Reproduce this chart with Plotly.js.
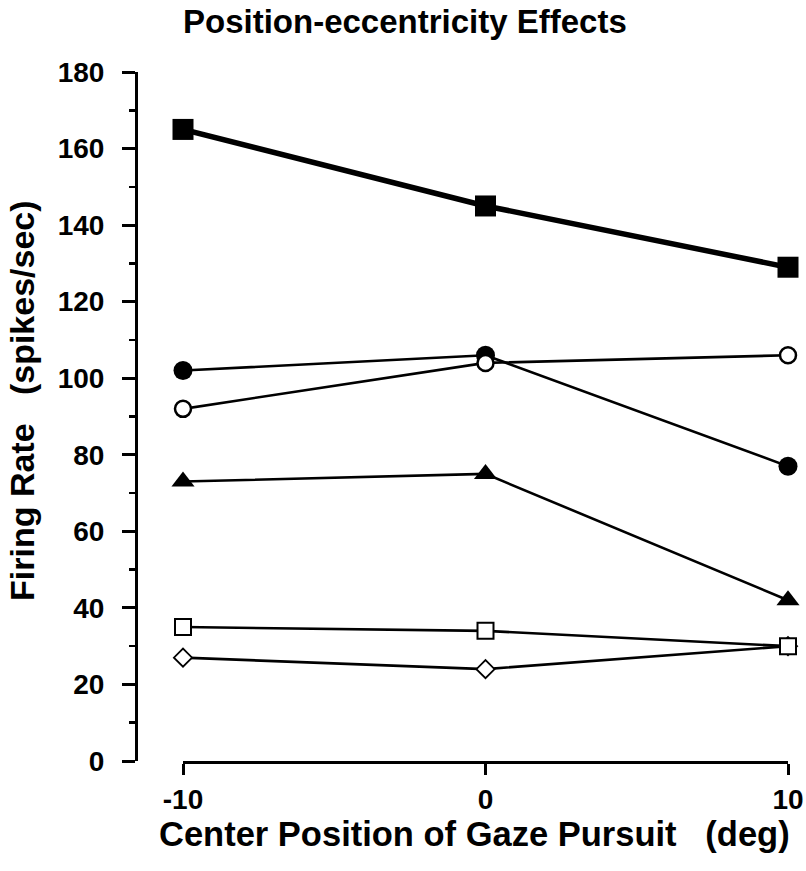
<!DOCTYPE html>
<html>
<head>
<meta charset="utf-8">
<script src="https://cdn.plot.ly/plotly-3.0.1.min.js"></script>
<style>html,body{margin:0;padding:0;background:#fff;}#chart{width:806px;height:871px;}</style>
</head>
<body>
<div id="chart"></div>
<script>
// Data
const positions = [-10, 0, 10];
const filledSquare = [165, 145, 129];
const filledCircle = [102, 106, 77];
const openCircle = [92, 104, 106];
const filledTriangle = [73, 75, 42];
const openSquare = [35, 34, 30];
const openDiamond = [27, 24, 30];
const xTicks = [-10, 0, 10];
const yTicks = [0, 20, 40, 60, 80, 100, 120, 140, 160, 180];

const FONT = 'Liberation Sans, Arial, Helvetica, sans-serif';

function tr(y, symbol, size, fill, lw, mlw) {
  return {
    x: positions, y: y, type: 'scatter', mode: 'lines+markers',
    cliponaxis: false,
    line: {color: '#000', width: lw},
    marker: {symbol: symbol, size: size, color: fill, line: {color: '#000', width: mlw}},
    showlegend: false, hoverinfo: 'x+y'
  };
}

const data = [
  tr(filledSquare, 'square', 21, '#000', 5.5, 0),
  tr(filledCircle, 'circle', 19, '#000', 2.6, 0),
  tr(openCircle, 'circle', 16, '#fff', 2.6, 2.5),
  tr(filledTriangle, 'triangle-up', 20, '#000', 2.6, 0),
  tr(openDiamond, 'diamond', 14, '#fff', 2.6, 1.8),
  tr(openSquare, 'square', 16, '#fff', 2.6, 2)
];

const L = 136, R = 10, T = 72, B = 110;
const W = 806 - L - R, H = 871 - T - B;
const layout = {
  width: 806, height: 871,
  margin: {l: L, r: R, t: T, b: B},
  paper_bgcolor: '#fff', plot_bgcolor: '#fff',
  font: {family: FONT, color: '#000', weight: 700},
  title: {
    text: 'Position-eccentricity Effects',
    font: {family: FONT, size: 33, weight: 700, color: '#000'},
    xref: 'container', yref: 'container', x: 183/806, y: 1 - 21/871,
    xanchor: 'left', yanchor: 'middle'
  },
  xaxis: {
    domain: [(183 - L) / W, (788 - L) / W],
    range: [-10, 10],
    tickvals: xTicks, ticktext: xTicks.map(String),
    showline: true, linewidth: 3, linecolor: '#000',
    ticks: 'outside', ticklen: 11, tickwidth: 3, tickcolor: '#000',
    showgrid: false, zeroline: false,
    tickfont: {family: FONT, size: 28, weight: 700, color: '#000'}
  },
  yaxis: {
    anchor: 'free', position: 0,
    range: [0, 180],
    tickvals: yTicks, ticktext: yTicks.map(String),
    showline: true, linewidth: 3, linecolor: '#000',
    ticks: 'outside', ticklen: 13, tickwidth: 3, tickcolor: '#000',
    ticklabelstandoff: 12,
    minor: {dtick: 10, ticks: 'outside', ticklen: 6, tickwidth: 2.5, tickcolor: '#000', showgrid: false},
    showgrid: false, zeroline: false,
    tickfont: {family: FONT, size: 28, weight: 700, color: '#000'}
  },
  annotations: [{
    text: 'Firing Rate\u00a0\u00a0\u00a0(spikes/sec)',
    xref: 'paper', yref: 'paper',
    x: (22 - L) / W, y: (871 - B - 401) / H,
    xanchor: 'center', yanchor: 'middle',
    textangle: -90, showarrow: false,
    font: {family: FONT, size: 34, weight: 700, color: '#000'}
  }, {
    text: 'Center Position of Gaze Pursuit\u00a0\u00a0\u00a0(deg)',
    xref: 'paper', yref: 'paper',
    x: (474 - L) / W, y: (871 - B - 834) / H,
    xanchor: 'center', yanchor: 'middle',
    showarrow: false,
    font: {family: FONT, size: 34.5, weight: 700, color: '#000'}
  }]
};

Plotly.newPlot('chart', data, layout, {staticPlot: true, displayModeBar: false});
</script>
</body>
</html>
